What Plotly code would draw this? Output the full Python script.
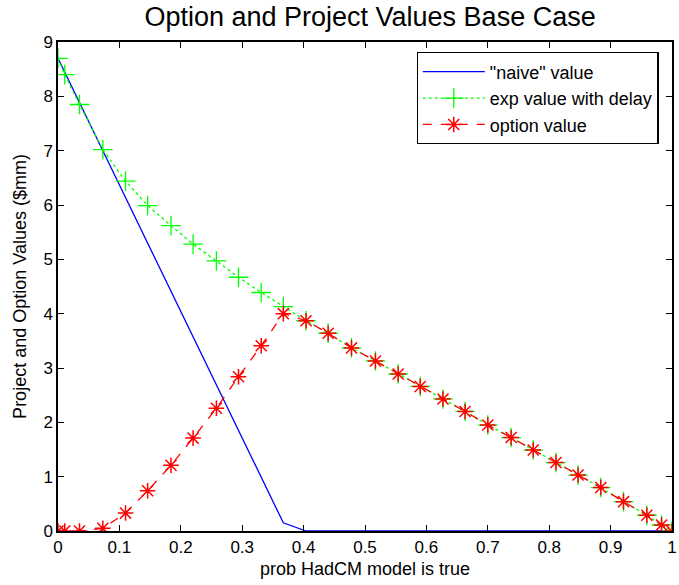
import plotly.graph_objects as go

# probability grid (x) shared by the delay and option curves
prob = [0.0, 0.011, 0.035, 0.073, 0.110, 0.146, 0.184, 0.220, 0.258, 0.294,
        0.331, 0.367, 0.404, 0.440, 0.478, 0.517, 0.554, 0.590, 0.627, 0.663,
        0.700, 0.738, 0.774, 0.811, 0.847, 0.884, 0.921, 0.959, 0.983, 1.0]

# expected value with delay ($mm)
exp_delay = [8.70, 8.40, 7.85, 7.02, 6.44, 5.99, 5.62, 5.28, 4.97, 4.67,
             4.39, 4.13, 3.87, 3.64, 3.37, 3.13, 2.89, 2.66, 2.43, 2.20,
             1.95, 1.72, 1.49, 1.26, 1.03, 0.80, 0.54, 0.29, 0.11, 0.0]

# option value ($mm)
option_val = [0.0, 0.0, 0.0, 0.05, 0.33, 0.74, 1.21, 1.71, 2.26, 2.84,
              3.41, 4.00, 3.87, 3.64, 3.37, 3.13, 2.89, 2.66, 2.43, 2.20,
              1.95, 1.72, 1.49, 1.26, 1.03, 0.80, 0.54, 0.29, 0.11, 0.0]

# "naive" project value ($mm)
naive_x = [0.0, 0.367, 0.404, 1.0]
naive_y = [8.70, 0.15, 0.0, 0.0]

x_ticks = [0, 0.1, 0.2, 0.3, 0.4, 0.5, 0.6, 0.7, 0.8, 0.9, 1]
y_ticks = [0, 1, 2, 3, 4, 5, 6, 7, 8, 9]

FONT = "Liberation Sans, Arial, sans-serif"

fig = go.Figure()
fig.add_trace(go.Scatter(
    x=naive_x, y=naive_y, mode="lines", name='"naive" value',
    line=dict(color="#0000FF", width=1.3)))
fig.add_trace(go.Scatter(
    x=prob, y=exp_delay, mode="lines+markers", name="exp value with delay",
    line=dict(color="#00FF00", width=1.3, dash="dot"),
    marker=dict(symbol="cross-thin-open", size=14,
                line=dict(color="#00FF00", width=1.3))))
fig.add_trace(go.Scatter(
    x=prob, y=option_val, mode="lines+markers", name="option value",
    line=dict(color="#FF0000", width=1.3, dash="dash"),
    marker=dict(symbol="asterisk-open", size=13,
                line=dict(color="#FF0000", width=1.5))))

axis_common = dict(
    showline=True, linecolor="black", linewidth=1.5, mirror="ticks",
    ticks="inside", ticklen=6, tickcolor="black", tickwidth=1,
    showgrid=False, zeroline=False, ticklabeloverflow="allow",
    tickfont=dict(family=FONT, size=17, color="black"),
)

fig.update_layout(
    width=679, height=585,
    margin=dict(l=58, r=2, t=42, b=54),
    paper_bgcolor="white", plot_bgcolor="white",
    title=dict(text="Option and Project Values Base Case", x=0.545, xanchor="center",
               y=0.971, yanchor="middle",
               font=dict(family=FONT, size=27, color="black")),
    xaxis=dict(range=[0, 1], tickvals=x_ticks, ticktext=[str(t) for t in x_ticks],
               title=dict(text="prob HadCM model is true", standoff=6,
                          font=dict(family=FONT, size=18, color="black")),
               **axis_common),
    yaxis=dict(range=[0, 9], tickvals=y_ticks,
               title=dict(text="Project and Option Values ($mm)", standoff=12,
                          font=dict(family=FONT, size=18, color="black")),
               **axis_common),
    legend=dict(x=0.584, y=0.979, xanchor="left", yanchor="top",
                bgcolor="white", bordercolor="black", borderwidth=1.2,
                font=dict(family=FONT, size=18, color="black"),
                tracegroupgap=0, itemwidth=62),
    showlegend=True,
)

fig.write_html("out.html")
